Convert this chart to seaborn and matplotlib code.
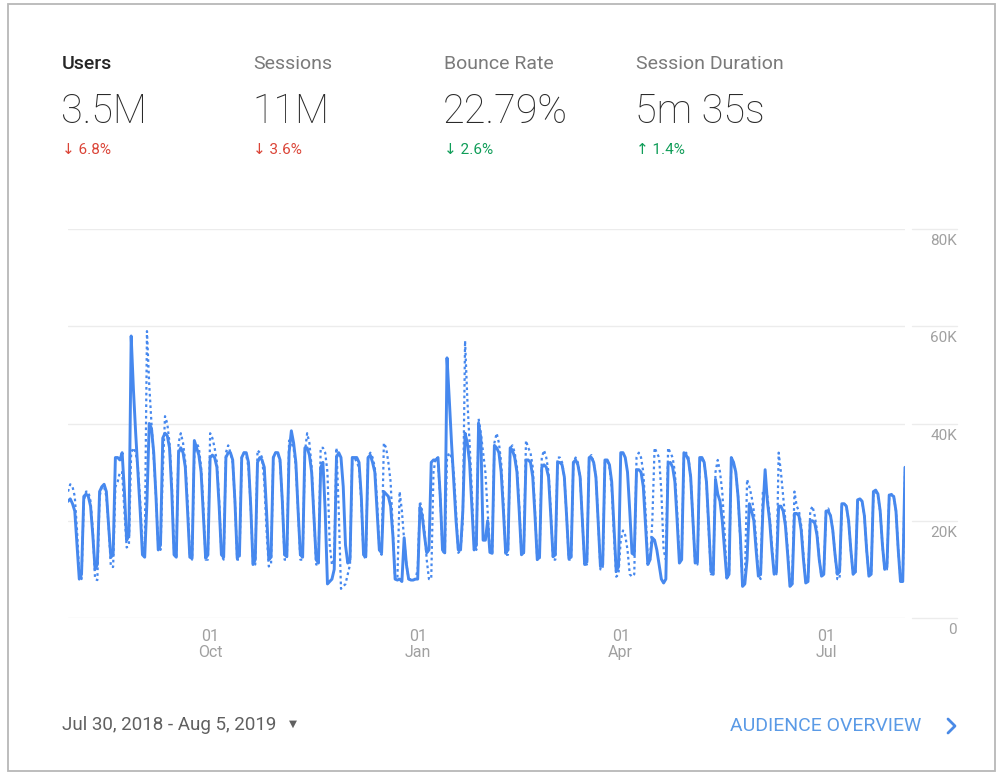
import numpy as np
import pandas as pd
import seaborn as sns
import matplotlib.pyplot as plt
from matplotlib.patches import Rectangle
from matplotlib.lines import Line2D

sns.set_style('white')
plt.rcParams['font.family'] = ['Roboto', 'DejaVu Sans']

W, H = 998, 778

metric_names = ['Users', 'Sessions', 'Bounce Rate', 'Session Duration']
metric_values = ['3.5M', '11M', '22.79%', '5m 35s']
metric_changes = ['\u2193 6.8%', '\u2193 3.6%', '\u2193 2.6%', '\u2191 1.4%']
change_colors = ['#db4437', '#db4437', '#0f9d58', '#0f9d58']
date_range = 'Jul 30, 2018 - Aug 5, 2019'
link_text = 'AUDIENCE OVERVIEW'

y_ticks = [0, 20000, 40000, 60000, 80000]
y_labels = ['0', '20K', '40K', '60K', '80K']
x_ticks = ['2018-10-01', '2019-01-01', '2019-04-01', '2019-07-01']
x_labels = ['01\nOct', '01\nJan', '01\nApr', '01\nJul']

# daily users in thousands, one row per week (Mon..Sun), starting Mon Jul 30 2018
users_aug_sep = [
    24, 24.5, 23.5, 22, 15, 8, 9,
    25, 25.5, 25, 23, 17, 10, 11,
    26, 27, 27.5, 26, 19, 12.5, 13,
    33, 33, 32.5, 34, 26, 16, 17,
    58, 47, 38, 30, 22, 13, 12.5,
    24, 40, 39, 34, 25, 14, 15,
    37, 38, 37.5, 35, 26, 13, 12.5,
    34, 35, 34, 31, 22, 12.5, 12.3,
    36.5, 35, 33.5, 30, 21, 12.3, 13,
]
users_oct_dec = [
    33, 33.5, 33, 31, 23, 13, 12.5,
    33, 34, 34, 32.5, 24, 12.3, 13,
    33, 34, 34, 32, 23, 11, 12,
    32, 33, 32.5, 31, 22, 12, 12.5,
    33, 34, 34, 32.5, 24, 13, 12.6,
    34, 38.5, 36, 32, 22, 13, 12.5,
    35, 35, 33.5, 30, 21, 12, 11.3,
    31, 32, 22, 7, 7.5, 8, 10,
    33, 34, 33, 27, 15, 11.3, 12,
    33, 33, 33, 32, 25, 13, 12.6,
    33, 33.5, 32, 30, 22, 14, 13.4,
    26, 25.5, 25, 23, 17, 8, 7.8,
    8, 7.5, 16.5, 11, 8, 7.8, 7.8,
]
users_jan_mar = [
    8, 8, 22.8, 21, 17, 13.4, 14,
    32, 32.5, 32.5, 33, 25, 14, 13.4,
    53.5, 45, 36, 28, 20, 14, 14,
    22, 38, 36, 32, 23, 14, 15,
    40, 37, 16, 16, 20, 13.5, 13.3,
    35.5, 35, 34, 30, 22, 13.3, 14,
    35, 34.5, 33, 30, 22, 13, 13.5,
    32.5, 32.5, 32, 29, 21, 12, 12.5,
    31, 31.5, 31, 29, 21, 12.6, 13,
    32, 32, 31.5, 29, 21, 12.3, 12.5,
    32, 32.5, 31.5, 29, 20, 11, 11.5,
    33, 33, 32, 29, 20, 10.6, 11,
    32.5, 32.5, 31.5, 28, 19, 9.6, 10.5,
]
users_apr_aug = [
    34, 34, 33, 30, 22, 13.3, 13,
    30.5, 30.5, 30, 27, 19, 11, 12,
    16.5, 16, 14, 11, 8, 7.2, 8,
    31.8, 32, 31, 28, 20, 11.3, 12,
    34, 33.5, 32.5, 29, 20, 11.3, 11.5,
    33, 33, 32, 28, 19, 9.5, 9,
    28.5, 25.5, 24, 20, 14, 8.2, 9,
    33, 32, 30, 25, 17, 6.5, 7,
    12, 23.5, 22, 20, 14, 8.6, 9,
    22, 30.5, 24, 20, 14, 9, 9.5,
    23, 23, 22, 19, 13, 6.5, 7,
    21.5, 21.5, 21, 18, 12, 7.2, 7.5,
    20, 20, 19.5, 17, 12, 8.6, 9,
    22, 22, 21, 18, 13, 9, 9.5,
    23.5, 23.5, 23, 20, 14, 9, 9.5,
    24.3, 24.5, 24, 21, 14, 8.6, 9,
    26, 26.3, 25.5, 22, 15, 10, 10.5,
    25.3, 25.3, 25, 22, 14, 7.5, 7.5,
    31,
]

# previous period (dotted line), same layout
prev_aug_sep = [
    26, 27.5, 27, 25, 18, 9, 8,
    24, 26, 26, 24, 18, 8, 7.8,
    25, 27, 27, 25, 19, 10.5, 10.5,
    27, 28, 30, 30, 22, 14.5, 15,
    34, 35, 34, 31, 24, 15, 13,
    59, 48, 40, 33, 25, 15, 14,
    30, 41.5, 40, 36, 28, 14, 12.5,
    36, 38, 36, 32, 24, 13, 12,
    34, 36, 35, 31, 23, 12, 12,
]
prev_oct_dec = [
    38, 37, 35, 32, 24, 13, 12,
    34, 35.5, 34, 32, 24, 12, 12,
    33, 34, 33.5, 31, 23, 11, 11,
    34.5, 34, 33, 28, 18, 10.6, 11,
    33, 34, 34, 32, 24, 12, 12,
    36.5, 36, 35, 31, 22, 12, 12,
    34, 38, 36, 31, 21, 11, 11,
    35, 35, 34, 30, 15, 11, 12,
    35, 22, 6, 6.5, 7, 9, 11,
    33, 33, 32, 31, 24, 13, 12,
    33, 34, 33, 31, 24, 14, 13,
    36, 35, 32, 28, 18, 8, 8,
    26, 22, 16, 11, 8, 8, 8,
]
prev_jan_mar = [
    8, 10, 24, 22, 18, 12, 8,
    8, 30, 33, 32, 25, 14, 13,
    33, 34, 33, 30, 22, 13.4, 14,
    20, 57, 45, 36, 26, 15, 14,
    41, 38, 34, 30, 22, 14, 13,
    36, 38, 36, 32, 24, 13, 13,
    35, 35.5, 34, 31, 23, 13, 13,
    36.5, 35, 34, 31, 22, 12, 12,
    33, 34.5, 33, 30, 22, 12, 12,
    33, 33, 32, 29, 21, 12, 12,
    32, 33, 32, 29, 20, 11, 11,
    33, 33.5, 32, 29, 20, 10, 10,
    32, 32.5, 31, 27, 17, 8.5, 9,
]
prev_apr_aug = [
    16, 18, 17, 14, 9, 8.5, 9,
    33, 34, 33, 30, 22, 12, 12,
    20, 35, 34, 33, 26, 14, 12,
    35, 34, 33, 30, 22, 12, 12,
    33, 34, 33, 29, 20, 11, 11,
    32, 33, 32, 28, 18, 9, 9,
    30, 32.5, 30, 26, 18, 9, 9,
    32, 32, 30, 25, 16, 7, 7,
    28.5, 27, 25, 22, 16, 9, 8,
    26, 27, 25, 21, 15, 9, 9,
    34, 30, 25, 20, 14, 7, 7,
    26, 23, 22, 19, 13, 7.5, 7.5,
    22, 23, 21, 18, 12, 8.5, 9,
    22, 22.5, 21, 18, 13, 8, 8,
    23, 23.5, 23, 20, 14, 9, 9,
    24, 24.5, 24, 21, 14, 9, 9,
    25.5, 26, 25, 22, 15, 10, 10,
    25, 25.5, 25, 22, 14, 8, 8,
    30,
]

blue = '#4688ee'
grid_c = '#ececec'
label_c = '#a0a0a0'

dates = pd.date_range('2018-07-30', '2019-08-05', freq='D')
users = np.array(users_aug_sep + users_oct_dec + users_jan_mar + users_apr_aug) * 1000
prev = np.array(prev_aug_sep + prev_oct_dec + prev_jan_mar + prev_apr_aug) * 1000
df = pd.DataFrame({'date': dates, 'users': users, 'previous': prev})

fig = plt.figure(figsize=(W / 100, H / 100), dpi=100)


def fx(x):
    return x / W


def fy(y):
    return 1 - y / H


# card frame
fig.patches.append(Rectangle((fx(8), fy(771)), fx(987), (771 - 4) / H, transform=fig.transFigure,
                             fill=False, edgecolor='#b8b8b8', lw=1.3))

# header metrics
cols = [62, 253, 444, 636]
for i, x in enumerate(cols):
    fig.text(fx(x), fy(64), metric_names[i], fontsize=14, va='center',
             color='#262626' if i == 0 else '#7a7a7a', fontweight='medium' if i == 0 else 'normal')
    fig.text(fx(x - 1), fy(112), metric_values[i], fontsize=28.5, va='center',
             color='#2a2a2a', fontweight='light')
    fig.text(fx(x), fy(150), metric_changes[i], fontsize=11, va='center', color=change_colors[i])

# chart
ax = fig.add_axes([fx(68), fy(618), (905 - 68) / W, (618 - 229) / H])
sns.lineplot(data=df, x='date', y='previous', ax=ax, color=blue, lw=1.6, linestyle=(0, (1.2, 1.4)))
sns.lineplot(data=df, x='date', y='users', ax=ax, color=blue, lw=2.1)

ax.set_xlim(dates[0], dates[-1])
ax.set_ylim(0, 80000)
ax.set_xlabel('')
ax.set_ylabel('')
for s in ax.spines.values():
    s.set_visible(False)

ax.set_yticks(y_ticks)
ax.set_yticklabels([])
ax.tick_params(axis='y', length=0)
ax.yaxis.grid(True, color=grid_c, lw=1)
ax.xaxis.grid(False)

ytr = ax.get_yaxis_transform()
for v, lab in zip(y_ticks, y_labels):
    ax.plot([1.0084, 1.062], [v, v], transform=ytr, clip_on=False, color=grid_c, lw=1)
    ax.text(1.062, v - 2500, lab, transform=ytr, ha='right', va='center',
            fontsize=11, color=label_c)

ax.set_xticks(pd.to_datetime(x_ticks))
ax.set_xticklabels(x_labels, linespacing=1.05)
ax.tick_params(axis='x', direction='inout', length=6, color='#e4e4e4', width=1,
               labelsize=11.5, labelcolor=label_c, pad=5)

# footer
fig.text(fx(62), fy(725), date_range, fontsize=13.5, va='center', color='#606060')
fig.text(fx(289), fy(724), '\u25BC', fontsize=7.5, va='center', color='#606060')
fig.text(fx(921), fy(726), link_text, fontsize=14, va='center', ha='right', color='#5a9ae6')
fig.add_artist(Line2D([fx(948), fx(955), fx(948)], [fy(719), fy(726), fy(733)],
                      transform=fig.transFigure, color='#4a8ae6', lw=2))

fig.savefig('out.png', dpi=100)
